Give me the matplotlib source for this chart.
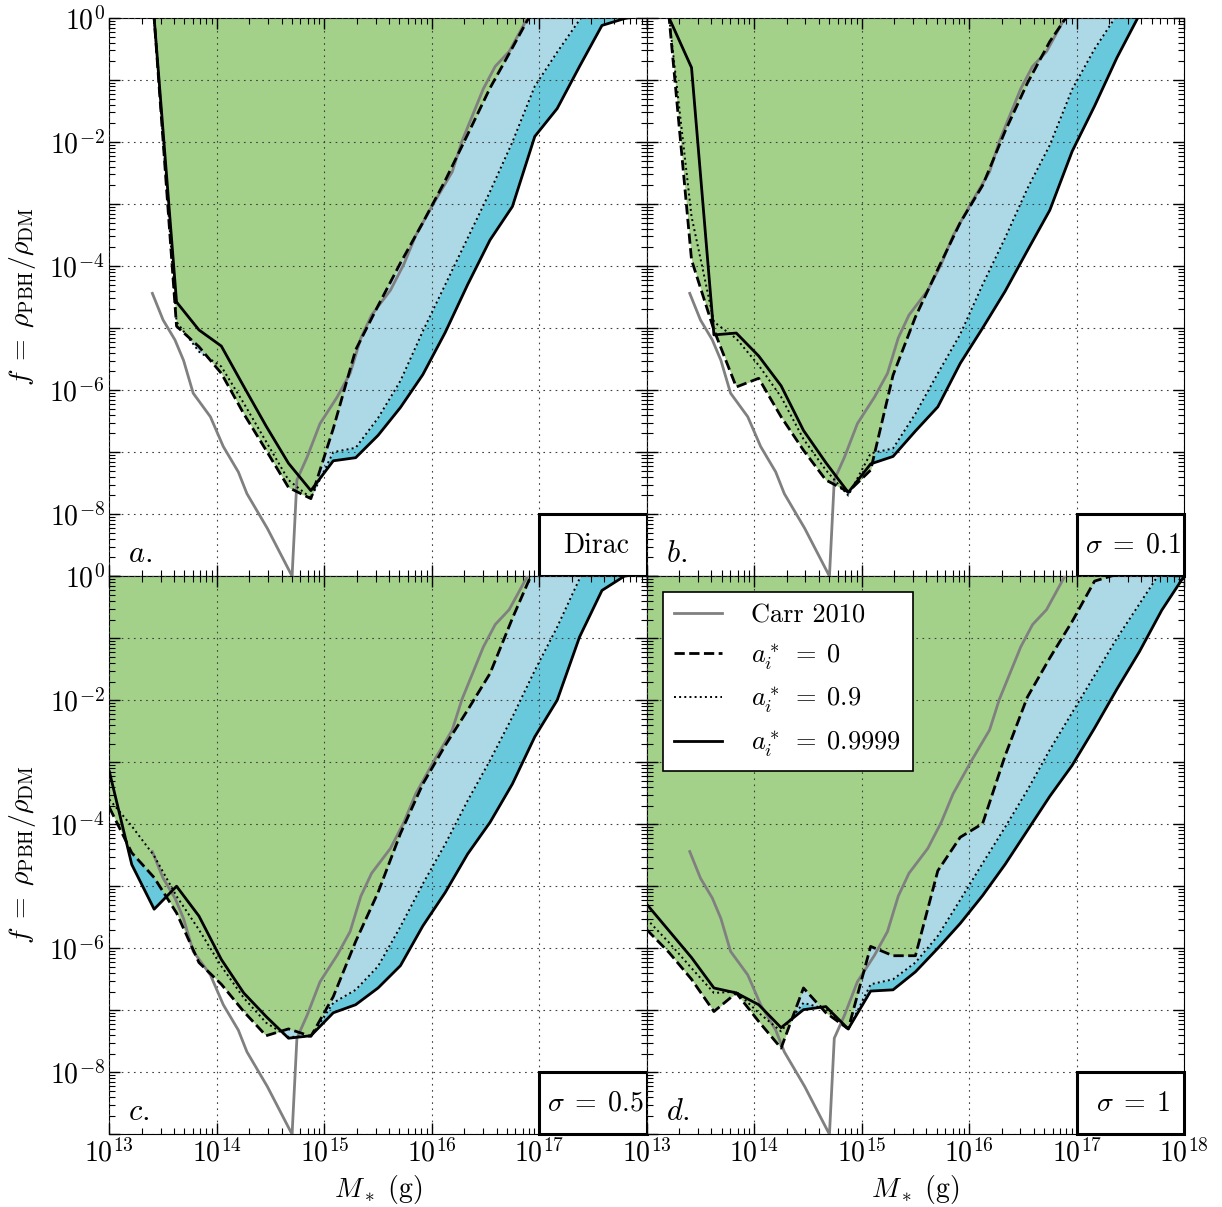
import numpy as np
import matplotlib
matplotlib.use("Agg")
import matplotlib.pyplot as plt
from matplotlib.patches import Rectangle
from matplotlib.ticker import LogLocator, FuncFormatter, NullFormatter

plt.rcParams['font.family'] = 'cmr10'
plt.rcParams['mathtext.fontset'] = 'cm'
plt.rcParams['axes.unicode_minus'] = False

#
##  Data: log10(f) on the mass grid (3 = off the top of the plot)
#
log_mass = np.linspace(13, 18, 25)

solid_a  = [3, 3, 0.0, -4.58, -5.03, -5.29, -5.94, -6.58, -7.18, -7.62, -7.14, -7.09, -6.73,
            -6.28, -5.75, -5.07, -4.30, -3.58, -3.04, -1.91, -1.46, -0.78, -0.12, -0.01, 0.05]
dotted_a = [3, 3, 0.0, -4.90, -5.38, -5.62, -6.21, -6.83, -7.45, -7.74, -7.00, -6.93, -6.45,
            -5.85, -5.05, -4.30, -3.55, -2.80, -2.00, -1.10, -0.55, -0.03, 0.4, 3, 3]
dashed_a = [3, 3, 0.0, -4.97, -5.30, -5.73, -6.38, -6.97, -7.57, -7.75, -6.62, -5.35, -4.64,
            -3.95, -3.30, -2.62, -1.88, -1.13, -0.48, 0.18, 3, 3, 3, 3, 3]

solid_b  = [3, 0.0, -0.80, -5.11, -5.08, -5.45, -5.93, -6.65, -7.17, -7.65, -7.19, -7.07, -6.66,
            -6.27, -5.57, -5.00, -4.41, -3.75, -3.10, -2.15, -1.42, -0.64, 0.05, 3, 3]
dotted_b = [3, 0.0, -3.20, -4.90, -5.17, -5.60, -6.11, -6.79, -7.29, -7.70, -7.02, -6.94, -6.38,
            -5.73, -5.10, -4.30, -3.55, -2.75, -2.05, -1.15, -0.50, 0.05, 3, 3, 3]
dashed_b = [3, 0.0, -3.90, -5.03, -5.95, -5.81, -6.43, -6.97, -7.45, -7.64, -7.29, -5.76, -4.82,
            -4.05, -3.30, -2.70, -1.83, -1.05, -0.38, 0.15, 3, 3, 3, 3, 3]

solid_c  = [-3.15, -4.65, -5.37, -5.00, -5.48, -6.18, -6.72, -7.10, -7.45, -7.41, -7.04, -6.91, -6.64,
            -6.28, -5.64, -5.10, -4.48, -3.97, -3.35, -2.59, -2.00, -0.98, -0.23, 0.0, 0.05]
dotted_c = [-3.60, -4.03, -4.51, -5.16, -5.70, -6.29, -6.80, -7.20, -7.43, -7.42, -6.88, -6.67, -6.29,
            -5.65, -4.96, -4.32, -3.62, -2.97, -2.27, -1.52, -0.82, -0.04, 0.5, 3, 3]
dashed_c = [-3.73, -4.46, -4.86, -5.43, -6.23, -6.58, -7.02, -7.41, -7.30, -7.42, -6.78, -5.89, -5.10,
            -4.15, -3.35, -2.73, -2.16, -1.57, -0.68, 0.15, 3, 3, 3, 3, 3]

solid_d  = [-5.29, -5.72, -6.15, -6.64, -6.72, -6.91, -7.28, -6.99, -6.94, -7.30, -6.69, -6.67, -6.38,
            -6.00, -5.60, -5.15, -4.65, -4.10, -3.55, -3.05, -2.45, -1.82, -1.22, -0.55, 0.0]
dotted_d = [-5.53, -5.91, -6.32, -6.72, -6.70, -7.04, -7.34, -6.88, -6.98, -7.31, -6.58, -6.50, -6.23,
            -5.80, -5.22, -4.63, -4.05, -3.45, -2.80, -2.20, -1.60, -1.00, -0.45, 0.10, 3]
dashed_d = [-5.70, -6.07, -6.50, -7.02, -6.72, -7.18, -7.61, -6.64, -7.04, -7.30, -5.97, -6.12, -6.12,
            -4.75, -4.21, -3.99, -2.90, -1.95, -1.32, -0.73, -0.08, 0.03, 3, 3, 3]

# Carr 2010 bound (log10 M, log10 f)
carr_logm = [13.40, 13.50, 13.61, 13.69, 13.78, 13.94, 14.06, 14.20, 14.28, 14.47, 14.70, 14.745,
             14.84, 14.96, 15.12, 15.24, 15.34, 15.44, 15.615, 15.74, 15.85, 16.02, 16.19, 16.28,
             16.48, 16.59, 16.72, 16.89]
carr_logf = [-4.44, -4.87, -5.19, -5.52, -6.05, -6.43, -6.91, -7.32, -7.67, -8.23, -9.0, -7.45,
             -7.08, -6.54, -6.11, -5.73, -5.16, -4.79, -4.39, -3.97, -3.51, -2.98, -2.48, -1.99,
             -1.14, -0.78, -0.54, 0.0]

panel_letters = ["a", "b", "c", "d"]
panel_boxes = ["Dirac", r"$\sigma\;=\;0.1$", r"$\sigma\;=\;0.5$", r"$\sigma\;=\;1$"]
legend_labels = ["Carr 2010", r"$a_i^*\;=\;0$", r"$a_i^*\;=\;0.9$", r"$a_i^*\;=\;0.9999$"]

GREEN = "#a3d18a"
LIGHTBLUE = "#add8e6"
CYAN = "#68c9dc"
FS = 20


def exp_formatter(show):
    def fmt(v, pos):
        e = int(round(np.log10(v)))
        return r"$10^{%d}$" % e if e in show else ""
    return FuncFormatter(fmt)


def draw_panel(ax, solid, dotted, dashed, letter, box_text):
    mass = 10 ** log_mass
    ax.fill_between(mass, 10 ** np.array(solid), 1, color=CYAN, lw=0, zorder=1)
    ax.fill_between(mass, 10 ** np.array(dotted), 1, color=LIGHTBLUE, lw=0, zorder=1.1)
    ax.fill_between(mass, 10 ** np.array(dashed), 1, color=GREEN, lw=0, zorder=1.2)
    lines = []
    lines += ax.plot(10 ** np.array(carr_logm), 10 ** np.array(carr_logf), color="#808080", lw=2, zorder=3)
    lines += ax.plot(mass, 10 ** np.array(dashed), color="k", ls="--", lw=2, zorder=4)
    lines += ax.plot(mass, 10 ** np.array(dotted), color="k", ls=":", lw=1.4, zorder=4)
    lines += ax.plot(mass, 10 ** np.array(solid), color="k", ls="-", lw=2, zorder=4)

    ax.set_xscale("log")
    ax.set_yscale("log")
    ax.set_xlim(1e13, 1e18)
    ax.set_ylim(1e-9, 1)
    ax.set_axisbelow(False)
    ax.grid(True, which="major", color="0.25", lw=0.8, ls=(0, (1.5, 4)))
    ax.xaxis.set_major_locator(LogLocator(base=10, numticks=20))
    ax.yaxis.set_major_locator(LogLocator(base=10, numticks=20))
    ax.xaxis.set_minor_locator(LogLocator(base=10, subs=np.arange(2, 10), numticks=20))
    ax.yaxis.set_minor_locator(LogLocator(base=10, subs=np.arange(2, 10), numticks=20))
    ax.xaxis.set_minor_formatter(NullFormatter())
    ax.yaxis.set_minor_formatter(NullFormatter())
    ax.tick_params(which="both", direction="in", top=True, right=True, labelsize=FS)
    ax.tick_params(which="major", length=8, width=1)
    ax.tick_params(which="minor", length=4, width=0.8)

    ax.text(0.035, 0.025, r"$%s.$" % letter, transform=ax.transAxes, fontsize=FS + 2,
            ha="left", va="baseline", zorder=6)
    ax.add_patch(Rectangle((0.8, 0.0), 0.2, 1 / 9, transform=ax.transAxes, facecolor="white",
                           edgecolor="k", lw=2.2, zorder=5, clip_on=False))
    ax.text(0.905, 0.055, box_text, transform=ax.transAxes, fontsize=FS, ha="center",
            va="center", zorder=6)
    return lines


fig = plt.figure(figsize=(12.22, 12.07), dpi=100)
axs = fig.subplots(2, 2)
fig.subplots_adjust(left=0.0895, right=0.9690, bottom=0.0602, top=0.9851, wspace=0, hspace=0)

curves = [(solid_a, dotted_a, dashed_a), (solid_b, dotted_b, dashed_b),
          (solid_c, dotted_c, dashed_c), (solid_d, dotted_d, dashed_d)]

for i, ax in enumerate(axs.flat):
    s, dt, ds = curves[i]
    lines = draw_panel(ax, s, dt, ds, panel_letters[i], panel_boxes[i])
    row, col = divmod(i, 2)
    if row == 1:
        xshow = range(13, 18) if col == 0 else range(13, 19)
        ax.xaxis.set_major_formatter(exp_formatter(list(xshow)))
        ax.set_xlabel(r"$M_*\ (\mathrm{g})$", fontsize=FS, labelpad=4)
    else:
        ax.tick_params(labelbottom=False)
    if col == 0:
        ax.yaxis.set_major_formatter(exp_formatter([0, -2, -4, -6, -8]))
        ax.set_ylabel(r"$f\;=\;\rho_{\mathrm{PBH}}/\rho_{\mathrm{DM}}$", fontsize=FS, labelpad=8)
    else:
        ax.tick_params(labelleft=False)
    if i == 3:
        leg = ax.legend(lines, legend_labels, loc="upper left", fontsize=FS - 1, fancybox=False,
                        edgecolor="k", framealpha=1, handlelength=1.8, handletextpad=1.1,
                        labelspacing=0.55, borderpad=0.45, borderaxespad=0.6)
        leg.get_frame().set_linewidth(1.2)
        leg.set_zorder(7)

fig.savefig("out.png", dpi=100)
